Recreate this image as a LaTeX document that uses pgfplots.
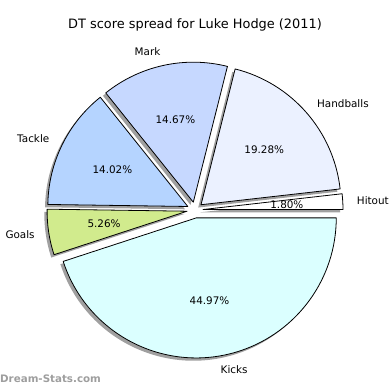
\documentclass[border=0pt]{standalone}
\usepackage{pgfplots}
\pgfplotsset{compat=1.18}
\usepackage{fontspec}
\setmainfont{DejaVu Sans}
\usetikzlibrary{calc}
\definecolor{cHit}{HTML}{FFFFFF}
\definecolor{cHand}{HTML}{EBF1FF}
\definecolor{cMark}{HTML}{C6D8FF}
\definecolor{cTack}{HTML}{B5D4FF}
\definecolor{cGoal}{HTML}{D1EB8D}
\definecolor{cKick}{HTML}{DBFFFF}
\newcommand{\lbl}{\fontsize{10.4}{12}\selectfont}
% #1 = cumulative start (%), #2 = share (%)
\newcommand{\pieshadow}[2]{%
  \fill[black!74, opacity=0.5] (axis cs:192.2,177.2) ++({3.6*(#1+#2/2)}:8pt) -- ++({3.6*#1}:140pt)
    arc[start angle={3.6*#1}, end angle={3.6*(#1+#2)}, radius=140pt] -- cycle;}
% #3 colour, #4 label, #5 anchor
\newcommand{\piewedge}[5]{%
  \draw[fill=#3, line width=0.8pt, line join=round] (axis cs:195,180) ++({3.6*(#1+#2/2)}:8pt) -- ++({3.6*#1}:140pt)
    arc[start angle={3.6*#1}, end angle={3.6*(#1+#2)}, radius=140pt] -- cycle;
  \node[font=\lbl, inner sep=0pt] at ($(axis cs:195,180)+({3.6*(#1+#2/2)}:92pt)$) {#2\%};
  \node[font=\lbl, inner sep=0pt, anchor=#5] at ($(axis cs:195,180)+({3.6*(#1+#2/2)}:162pt)$) {#4};}
\begin{document}
\begin{tikzpicture}
\begin{axis}[
  width=390pt, height=390pt, scale only axis,
  xmin=0, xmax=390, ymin=0, ymax=390,
  hide axis, clip=false]
\pieshadow{0}{1.80}
\pieshadow{1.80}{19.28}
\pieshadow{21.08}{14.67}
\pieshadow{35.75}{14.02}
\pieshadow{49.77}{5.26}
\pieshadow{55.03}{44.97}
\piewedge{0}{1.80}{cHit}{Hitout}{west}
\piewedge{1.80}{19.28}{cHand}{Handballs}{west}
\piewedge{21.08}{14.67}{cMark}{Mark}{east}
\piewedge{35.75}{14.02}{cTack}{Tackle}{east}
\piewedge{49.77}{5.26}{cGoal}{Goals}{east}
\piewedge{55.03}{44.97}{cKick}{Kicks}{west}
\node[font=\fontsize{12.9}{15}\selectfont] at (axis cs:195,365) {DT score spread for Luke Hodge (2011)};
\node[font=\fontsize{10.3}{12}\selectfont\bfseries, text=black!38, anchor=west, inner sep=0pt] at (axis cs:0,11) {Dream-Stats.com};
\end{axis}
\pgfresetboundingbox
\path[use as bounding box] (current axis.south west) rectangle (current axis.north east);
\end{tikzpicture}
\end{document}
